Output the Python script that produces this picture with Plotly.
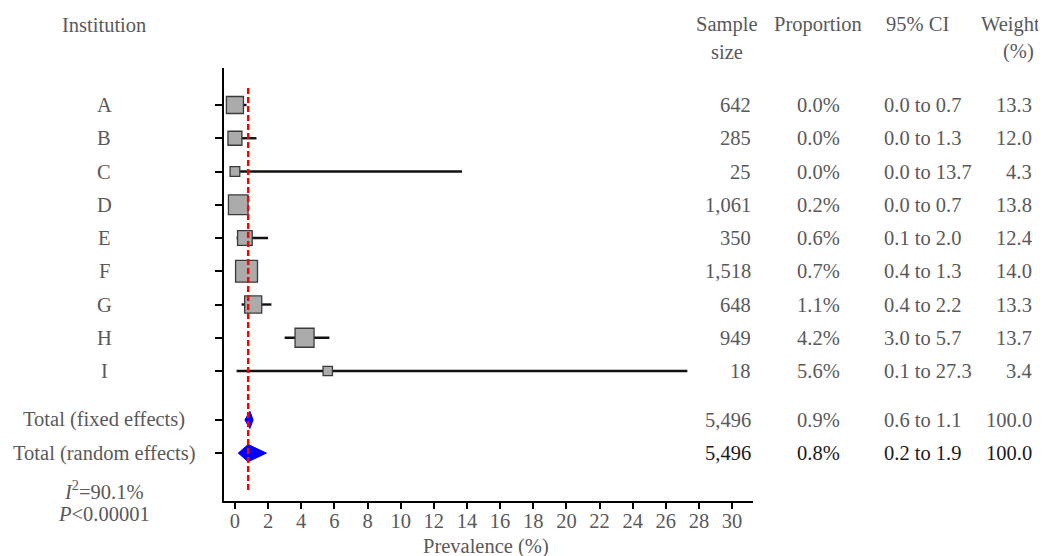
import plotly.graph_objects as go

# ---- data ----
institutions = ["A", "B", "C", "D", "E", "F", "G", "H", "I"]
sample_sizes = [642, 285, 25, 1061, 350, 1518, 648, 949, 18]
proportions = [0.0, 0.0, 0.0, 0.2, 0.6, 0.7, 1.1, 4.2, 5.6]
ci_low = [0.0, 0.0, 0.0, 0.0, 0.1, 0.4, 0.4, 3.0, 0.1]
ci_high = [0.7, 1.3, 13.7, 0.7, 2.0, 1.3, 2.2, 5.7, 27.3]
weights = [13.3, 12.0, 4.3, 13.8, 12.4, 14.0, 13.3, 13.7, 3.4]

pooled_labels = ["Total (fixed effects)", "Total (random effects)"]
pooled_n = [5496, 5496]
pooled_prop = [0.9, 0.8]
pooled_low = [0.6, 0.2]
pooled_high = [1.1, 1.9]
pooled_weight = [100.0, 100.0]

i2_text = "90.1%"
p_text = "0.00001"
x_ticks = list(range(0, 31, 2))

# ---- layout helpers ----
W, H = 1046, 556
OFF = 8  # page body margin
FONT = "Liberation Serif, Times New Roman, serif"
FS = 20.5
GRAY = "#595959"
rows = list(range(1, len(institutions) + 1))
pooled_rows = [10.47, 11.47]

def px(x):
    return (x - OFF) / W

def py(y):
    return (H - (y - OFF)) / H

fig = go.Figure()

# CI lines
lx, ly = [], []
for r, lo, hi in zip(rows, ci_low, ci_high):
    lx += [lo, hi, None]
    ly += [r, r, None]
fig.add_trace(go.Scatter(x=lx, y=ly, mode="lines",
                         line=dict(color="#111111", width=2.4),
                         hoverinfo="skip", showlegend=False))

# squares
sizes = [7.9 + 0.36 * (n ** 0.5) for n in sample_sizes]
fig.add_trace(go.Scatter(x=proportions, y=rows, mode="markers",
                         marker=dict(symbol="square", size=sizes, color="#ababab",
                                     opacity=1,
                                     line=dict(color="#3a3a3a", width=1.3)),
                         showlegend=False))

# diamonds
half_h = 0.26
for r, est, lo, hi in zip(pooled_rows, pooled_prop, pooled_low, pooled_high):
    fig.add_trace(go.Scatter(x=[lo, est, hi, est, lo],
                             y=[r, r - half_h, r, r + half_h, r],
                             mode="lines", fill="toself", fillcolor="#0000ff",
                             line=dict(color="#0000ff", width=1),
                             hoverinfo="skip", showlegend=False))

# red dashed reference line (random effects estimate)
fig.add_shape(type="line", xref="x", yref="y", x0=pooled_prop[1], x1=pooled_prop[1],
              y0=0.49, y1=12.61, line=dict(color="#ff0000", width=2.5, dash="6px,3px"),
              layer="above")

ann = []

def text(x, y, s, xanchor="center", color=GRAY, yref="y"):
    ann.append(dict(x=px(x), xref="paper", y=y, yref=yref, text=s, showarrow=False,
                    xanchor=xanchor, yanchor="middle",
                    font=dict(family=FONT, size=FS, color=color)))

# headers
text(104, py(25), "Institution", yref="paper")
text(727, py(24), "Sample", yref="paper")
text(727, py(52), "size", yref="paper")
text(818, py(24), "Proportion", yref="paper")
text(917, py(24), "95% CI", yref="paper")
text(1010, py(24), "Weight", yref="paper")
text(1036, py(52), "(%)", xanchor="right", yref="paper")

# study rows
for r, name, n, p, lo, hi, w in zip(rows, institutions, sample_sizes, proportions,
                                     ci_low, ci_high, weights):
    text(104, r, name)
    text(753, r, f"{n:,}", xanchor="right")
    text(818, r, f"{p:.1f}%")
    text(882, r, f"{lo:.1f} to {hi:.1f}", xanchor="left")
    text(1034, r, f"{w:.1f}", xanchor="right")

# pooled rows
for k, (r, lab, n, p, lo, hi, w) in enumerate(zip(pooled_rows, pooled_labels, pooled_n,
                                                   pooled_prop, pooled_low, pooled_high,
                                                   pooled_weight)):
    col = GRAY if k == 0 else "#1a1a1a"
    text(104, r, lab)
    text(753, r, f"{n:,}", xanchor="right", color=col)
    text(818, r, f"{p:.1f}%", color=col)
    text(882, r, f"{lo:.1f} to {hi:.1f}", xanchor="left", color=col)
    text(1034, r, f"{w:.1f}", xanchor="right", color=col)

# heterogeneity
text(104, py(490), f"<i>I</i><sup>2</sup>={i2_text}", yref="paper")
text(104, py(514), f"<i>P</i>&lt;{p_text}", yref="paper")

# x title
text(486, py(546), "Prevalence (%)", yref="paper")

fig.update_layout(
    width=W, height=H, autosize=False,
    margin=dict(l=0, r=0, t=0, b=0),
    paper_bgcolor="white", plot_bgcolor="white",
    annotations=ann,
    xaxis=dict(domain=[px(224), px(753)], range=[-0.66, 31.26],
               tickvals=x_ticks, ticktext=[str(t) for t in x_ticks],
               showline=True, linecolor="black", linewidth=1.5,
               ticks="outside", ticklen=6, tickwidth=1.5, tickcolor="black",
               ticklabelstandoff=-5,
               showgrid=False, zeroline=False,
               tickfont=dict(family=FONT, size=FS, color=GRAY)),
    yaxis=dict(domain=[py(501), py(68)], range=[12.91, -0.113],
               tickvals=rows + pooled_rows, showticklabels=False,
               showline=True, linecolor="black", linewidth=1.5,
               ticks="outside", ticklen=7, tickwidth=1.5, tickcolor="black",
               showgrid=False, zeroline=False),
)

fig.write_html("out.html")
